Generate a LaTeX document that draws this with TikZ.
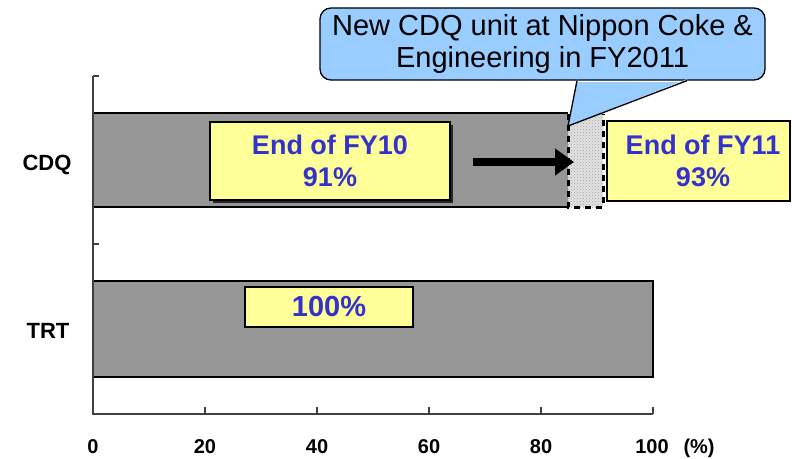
\documentclass[tikz,border=0pt]{standalone}
\usepackage{fontspec}
\setmainfont{Liberation Sans}
\usetikzlibrary{arrows.meta,patterns}

\definecolor{barGray}{HTML}{969696}
\definecolor{noteYellow}{HTML}{FFFF99}
\definecolor{valBlue}{HTML}{3333CC}
\definecolor{calloutBlue}{HTML}{99CCFF}
\definecolor{axisGray}{HTML}{404040}

\tikzset{
  axisline/.style={draw=axisGray, line width=1.2pt},
  bar/.style={fill=barGray},
  barEdge/.style={line width=2.6pt, black},
  valbox/.style={draw=black, line width=1.6pt, fill=noteYellow, inner sep=0pt},
  valtext/.style={font=\bfseries\fontsize{27}{32}\selectfont, text=valBlue, align=center},
  cattext/.style={font=\bfseries\fontsize{22}{24}\selectfont, anchor=base},
  ticktext/.style={font=\bfseries\fontsize{20}{24}\selectfont, anchor=base},
  callout/.style={draw=black, line width=1.3pt, fill=calloutBlue, rounded corners=11pt,
    minimum width=445pt, minimum height=72pt, align=center,
    font=\fontsize{29}{32}\selectfont},
  growth/.style={line width=3pt, dash pattern=on 6pt off 5pt, black},
}

\begin{document}
\begin{tikzpicture}[x=1pt, y=-1pt]
\useasboundingbox (0,0) rectangle (792,458);

% ---- bars ----
\fill[bar] (93,113) rectangle (568,207);
\draw[barEdge] (93,113) -- (568,113);
\draw[barEdge] (93,207) -- (568,207);

\fill[bar] (93,281) rectangle (653,377);
\draw[barEdge] (93,281) rectangle (653,377);

% ---- FY11 increment (hatched, dashed outline) ----
\fill[gray!22] (568,114) rectangle (603,207);
\fill[pattern=crosshatch dots, pattern color=gray!75] (568,114) rectangle (603,207);
\draw[growth] (568,114) -- (568,207) -- (603,207) -- (603,114);

% ---- axes ----
\draw[axisline] (93,76) -- (93,414) -- (653,414);
\foreach \yy in {76,244} \draw[axisline] (93,\yy) -- (99,\yy);
\foreach \xx in {205,317,429,541,653} \draw[axisline] (\xx,414) -- (\xx,407);

\foreach \xx/\lab in {93/0,205/20,317/40,429/60,541/80}
  \node[ticktext] (t\lab) at (\xx,453) {\lab};
\node[ticktext] (t100) at (652,453) {100};
\node[ticktext, anchor=base west] (tpct) at (680,453) {(\%)};

\node[cattext] (cdq) at (47,170) {CDQ};
\node[cattext] (trt) at (48,338) {TRT};

% ---- callout ----
\node[callout] (note) at (542.5,44) {New CDQ unit at Nippon Coke \&\\Engineering in FY2011};
\coordinate (pL) at ([xshift=34.5pt]note.south);
\coordinate (pR) at ([xshift=144.5pt]note.south);
\coordinate (pTip) at (568,126);
\fill[calloutBlue] ([yshift=1.5pt]pL) -- (pTip) -- ([yshift=1.5pt]pR)
  -- ([yshift=-1.5pt]pR) -- ([yshift=-1.5pt]pL) -- cycle;
\draw[black, line width=1.3pt, line join=miter] (pL) -- (pTip) -- (pR);

% ---- value boxes ----
\fill[black!85] (213,125) rectangle (453,203);
\node[valbox, minimum width=240pt, minimum height=78pt] (fy10) at (330,161) {};
\node[valtext] (fy10t) at (fy10.center) {End of FY10\\91\%};

\node[valbox, minimum width=183pt, minimum height=80pt] (fy11) at (698.5,161) {};
\node[valtext] (fy11t) at (703,161) {End of FY11\\93\%};

\node[valbox, minimum width=168pt, minimum height=40pt] (trtbox) at (329,307) {};
\node[font=\bfseries\fontsize{29}{32}\selectfont, text=valBlue] (trtt) at (trtbox.center) {100\%};

% ---- arrow from FY10 to FY11 ----
\coordinate (aS) at (473,162);
\coordinate (aE) at (574,162);
\draw[line width=8pt, -{Triangle[length=19pt, width=26pt]}] (aS) -- (aE);
\end{tikzpicture}
\end{document}
